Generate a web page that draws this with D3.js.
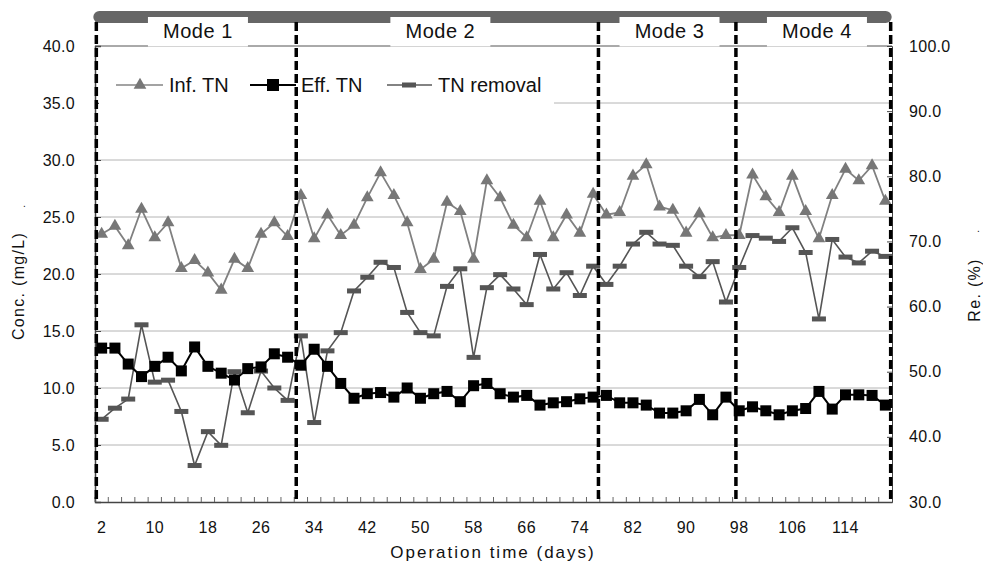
<!DOCTYPE html>
<html>
<head>
<meta charset="utf-8">
<script src="https://cdn.jsdelivr.net/npm/d3@7"></script>
<style>
  body { margin: 0; background: #fff; }
  svg text { font-family: "Liberation Sans", Arial, sans-serif; fill: #111; }
</style>
</head>
<body>
<div id="chart"></div>
<script>
// operation days (one category every 2 days)
const days = [2, 4, 6, 8, 10, 12, 14, 16, 18, 20, 22, 24, 26, 28, 30, 32, 34, 36, 38, 40,
  42, 44, 46, 48, 50, 52, 54, 56, 58, 60, 62, 64, 66, 68, 70, 72, 74, 76, 78, 80,
  82, 84, 86, 88, 90, 92, 94, 96, 98, 100, 102, 104, 106, 108, 110, 112, 114, 116, 118, 120];

// influent TN (mg/L), left axis
const infTN = [23.5, 24.2, 22.5, 25.7, 23.2, 24.5, 20.5, 21.2, 20.1, 18.6, 21.3, 20.5, 23.5, 24.5, 23.3,
  26.9, 23.1, 25.2, 23.4, 24.3, 26.7, 28.9, 26.9, 24.5, 20.4, 21.3, 26.3, 25.5, 21.3, 28.2,
  26.7, 24.3, 23.2, 26.4, 23.2, 25.2, 23.6, 27.0, 25.2, 25.4, 28.6, 29.6, 25.9, 25.6, 23.6,
  25.3, 23.2, 23.4, 23.4, 28.7, 26.8, 25.4, 28.6, 25.5, 23.1, 26.9, 29.2, 28.2, 29.5, 26.4];

// effluent TN (mg/L), left axis
const effTN = [13.5, 13.5, 12.1, 11.0, 11.9, 12.7, 11.5, 13.6, 11.9, 11.3, 10.7, 11.7, 11.85, 13.0, 12.7,
  12.0, 13.4, 11.9, 10.4, 9.1, 9.5, 9.6, 9.2, 10.0, 9.1, 9.5, 9.7, 8.8, 10.2, 10.4,
  9.5, 9.2, 9.35, 8.5, 8.7, 8.8, 9.05, 9.2, 9.35, 8.7, 8.7, 8.5, 7.8, 7.8, 8.0,
  9.0, 7.65, 9.2, 8.0, 8.35, 8.0, 7.65, 8.0, 8.2, 9.7, 8.15, 9.4, 9.4, 9.35, 8.5];

// TN removal (%), right axis
const tnRemoval = [42.7, 44.4, 45.8, 57.2, 48.4, 48.7, 43.9, 35.6, 40.8, 38.7, 50.0, 43.7, 50.1, 47.5, 45.6,
  55.5, 42.2, 53.2, 56.0, 62.4, 64.5, 66.8, 66.0, 59.1, 56.0, 55.5, 63.1, 65.8, 52.2, 62.9,
  64.9, 62.7, 60.3, 68.0, 62.7, 65.2, 61.7, 66.2, 63.4, 66.2, 69.6, 71.4, 69.6, 69.4, 66.2,
  64.6, 66.9, 60.7, 66.0, 70.9, 70.5, 70.0, 72.1, 68.3, 58.1, 70.3, 67.6, 66.7, 68.5, 67.7];

// x tick labels shown
const xTickDays = [2, 10, 18, 26, 34, 42, 50, 58, 66, 74, 82, 90, 98, 106, 114];
const leftTicks = [0, 5, 10, 15, 20, 25, 30, 35, 40];
const rightTicks = [30, 40, 50, 60, 70, 80, 90, 100];

// operation modes (boundaries and label centres in days)
const modeBounds = [1.2, 31.3, 76.8, 97.5, 120.8];
const modeNames = ["Mode 1", "Mode 2", "Mode 3", "Mode 4"];
const modeCenters = [16.5, 53, 87.5, 109.7];

const legendItems = ["Inf. TN", "Eff. TN", "TN removal"];

const width = 983, height = 566;
const marginLeft = 95, plotRight = 892, plotTop = 46, plotBottom = 502;

const svg = d3.select("#chart").append("svg").attr("width", width).attr("height", height);

const x = d3.scaleBand().domain(days).range([marginLeft, plotRight]).padding(0);
const xDay = d3.scaleLinear().domain([1, 121]).range([marginLeft, plotRight]);
const yL = d3.scaleLinear().domain([0, 40]).range([plotBottom, plotTop]);
const yR = d3.scaleLinear().domain([30, 100]).range([plotBottom, plotTop]);
const cx = (d) => x(d) + x.bandwidth() / 2;

// gridlines
svg.append("g")
  .selectAll("line")
  .data(leftTicks.filter((t) => t > 0 && t < 40))
  .join("line")
  .attr("x1", marginLeft).attr("x2", plotRight)
  .attr("y1", (d) => yL(d)).attr("y2", (d) => yL(d))
  .attr("stroke", "#b4b4b4").attr("stroke-width", 1);

// 40 line (mode table line)
svg.append("line")
  .attr("x1", marginLeft).attr("x2", plotRight)
  .attr("y1", yL(40)).attr("y2", yL(40))
  .attr("stroke", "#555").attr("stroke-width", 1);

// left axis
const gL = svg.append("g").attr("transform", `translate(${marginLeft},0)`)
  .call(d3.axisLeft(yL).tickValues(leftTicks).tickSize(-6).tickFormat(d3.format(".1f")).tickPadding(20));
gL.select(".domain").attr("stroke", "#444").attr("stroke-width", 1.5);
gL.selectAll(".tick line").attr("stroke", "#444");
gL.selectAll(".tick text").attr("font-size", 16).attr("letter-spacing", "0.3px").attr("fill", "#111");

// right axis
const gR = svg.append("g").attr("transform", `translate(${plotRight},0)`)
  .call(d3.axisRight(yR).tickValues(rightTicks).tickSize(-5).tickFormat(d3.format(".1f")).tickPadding(17));
gR.select(".domain").attr("stroke", "#444");
gR.selectAll(".tick line").attr("stroke", "#444");
gR.selectAll(".tick text").attr("font-size", 16).attr("letter-spacing", "0.3px").attr("fill", "#111");

// bottom axis
const gB = svg.append("g").attr("transform", `translate(0,${plotBottom})`)
  .call(d3.axisBottom(x).tickValues([]).tickSize(0));
gB.select(".domain").attr("stroke", "#444").attr("stroke-width", 1.5);
gB.selectAll(".cat-tick")
  .data(days)
  .join("line")
  .attr("x1", (d) => x(d)).attr("x2", (d) => x(d))
  .attr("y1", 0).attr("y2", -5)
  .attr("stroke", "#666");
gB.selectAll(".xlab")
  .data(xTickDays)
  .join("text")
  .attr("x", (d) => cx(d))
  .attr("y", 31)
  .attr("text-anchor", "middle")
  .attr("font-size", 16)
  .attr("letter-spacing", "0.5px")
  .text((d) => d);

// axis titles
svg.append("text")
  .attr("x", 493).attr("y", 558)
  .attr("text-anchor", "middle")
  .attr("font-size", 17).attr("letter-spacing", "2px")
  .text("Operation time (days)");
svg.append("text")
  .attr("transform", "translate(24,286) rotate(-90)")
  .attr("text-anchor", "middle")
  .attr("font-size", 16).attr("letter-spacing", "1.3px")
  .text("Conc. (mg/L)");
svg.append("text")
  .attr("transform", "translate(980,290) rotate(-90)")
  .attr("text-anchor", "middle")
  .attr("font-size", 16).attr("letter-spacing", "1.3px")
  .text("Re. (%)");
svg.append("text").attr("x", 23).attr("y", 207).attr("font-size", 10).text(".");
svg.append("text").attr("x", 977).attr("y", 232).attr("font-size", 10).text(".");

// legend (white box hides part of grid)
const lg = svg.append("g");
lg.append("rect").attr("x", 99).attr("y", 64).attr("width", 455).attr("height", 42).attr("fill", "#fff");
const legY = 85;
const legX = [116, 250, 387];
// Inf. TN
lg.append("line").attr("x1", legX[0]).attr("x2", legX[0] + 47).attr("y1", legY).attr("y2", legY)
  .attr("stroke", "#858585").attr("stroke-width", 1.6);
lg.append("path").attr("d", d3.symbol(d3.symbolTriangle, 70)())
  .attr("transform", `translate(${legX[0] + 24},${legY})`).attr("fill", "#777");
// Eff. TN
lg.append("line").attr("x1", legX[1]).attr("x2", legX[1] + 46).attr("y1", legY).attr("y2", legY)
  .attr("stroke", "#000").attr("stroke-width", 2);
lg.append("rect").attr("x", legX[1] + 17).attr("y", legY - 6).attr("width", 12).attr("height", 12).attr("fill", "#000");
// TN removal
lg.append("line").attr("x1", legX[2]).attr("x2", legX[2] + 45).attr("y1", legY).attr("y2", legY)
  .attr("stroke", "#5a5a5a").attr("stroke-width", 1.6);
lg.append("rect").attr("x", legX[2] + 15).attr("y", legY - 2.5).attr("width", 14).attr("height", 5).attr("fill", "#555");
lg.selectAll("text.leg")
  .data(legendItems)
  .join("text")
  .attr("x", (d, i) => legX[i] + [53, 51, 51][i])
  .attr("y", legY + 7)
  .attr("font-size", 20)
  .text((d) => d);

// series lines
const lineL = (vals) => d3.line().x((d, i) => cx(days[i])).y((d) => yL(d))(vals);
const lineR = (vals) => d3.line().x((d, i) => cx(days[i])).y((d) => yR(d))(vals);

svg.append("path").attr("d", lineR(tnRemoval)).attr("fill", "none").attr("stroke", "#555").attr("stroke-width", 1.6);
svg.append("path").attr("d", lineL(infTN)).attr("fill", "none").attr("stroke", "#808080").attr("stroke-width", 1.8);
svg.append("path").attr("d", lineL(effTN)).attr("fill", "none").attr("stroke", "#000").attr("stroke-width", 2);

// markers
svg.append("g").selectAll("rect")
  .data(tnRemoval)
  .join("rect")
  .attr("x", (d, i) => cx(days[i]) - 7)
  .attr("y", (d) => yR(d) - 2.5)
  .attr("width", 14).attr("height", 5)
  .attr("fill", "#555");
svg.append("g").selectAll("path")
  .data(infTN)
  .join("path")
  .attr("d", d3.symbol(d3.symbolTriangle, 70)())
  .attr("transform", (d, i) => `translate(${cx(days[i])},${yL(d)})`)
  .attr("fill", "#777");
svg.append("g").selectAll("rect")
  .data(effTN)
  .join("rect")
  .attr("x", (d, i) => cx(days[i]) - 5.5)
  .attr("y", (d) => yL(d) - 5.5)
  .attr("width", 11).attr("height", 11)
  .attr("fill", "#000");

// top mode bar
svg.append("rect")
  .attr("x", xDay(modeBounds[0]) - 3).attr("y", 11)
  .attr("width", xDay(modeBounds[4]) - xDay(modeBounds[0]) + 4).attr("height", 12)
  .attr("rx", 6).attr("fill", "#666");

// mode label boxes
const boxW = 100;
svg.append("g").selectAll("rect")
  .data(modeCenters)
  .join("rect")
  .attr("x", (d) => xDay(d) - boxW / 2)
  .attr("y", 17)
  .attr("width", boxW).attr("height", 29.5)
  .attr("fill", "#fff");
svg.append("g").selectAll("text")
  .data(modeNames)
  .join("text")
  .attr("x", (d, i) => xDay(modeCenters[i]))
  .attr("y", 38)
  .attr("text-anchor", "middle")
  .attr("font-size", 20)
  .attr("letter-spacing", "0.5px")
  .text((d) => d);

// dashed mode boundaries
svg.append("g").selectAll("line")
  .data(modeBounds)
  .join("line")
  .attr("x1", (d) => xDay(d)).attr("x2", (d) => xDay(d))
  .attr("y1", 22).attr("y2", plotBottom)
  .attr("stroke", "#000").attr("stroke-width", 3.5)
  .attr("stroke-dasharray", "9,4");
</script>
</body>
</html>
